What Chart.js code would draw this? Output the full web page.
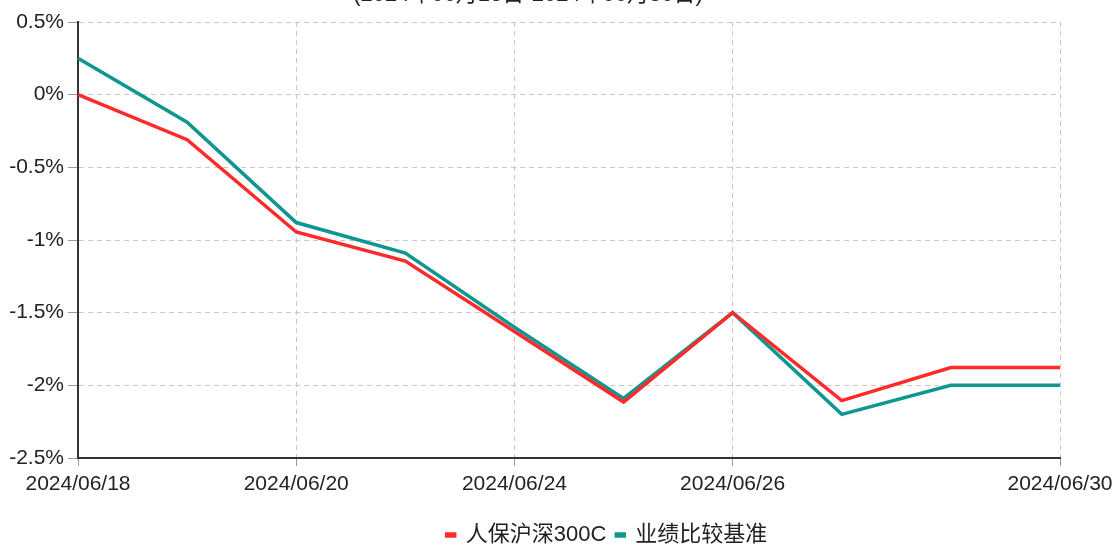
<!DOCTYPE html>
<html>
<head>
<meta charset="utf-8">
<script src="https://cdn.jsdelivr.net/npm/chart.js@4/dist/chart.umd.min.js"></script>
<style>
  html, body { margin: 0; padding: 0; background: #fff; overflow: hidden; }
  .wrap { position: relative; width: 1114px; height: 547px; }
  .title {
    position: absolute; top: -25px; left: 0; width: 1056px;
    text-align: center; line-height: 22px;
    font: 22px "Liberation Sans", "Noto Sans CJK SC", sans-serif; color: #222;
  }
</style>
</head>
<body>
<div class="wrap">
  <canvas id="chart" width="1114" height="547"></canvas>
  <div class="title">(2024年06月18日-2024年06月30日)</div>
</div>
<script>
const dates = ['2024/06/18', '2024/06/19', '2024/06/20', '2024/06/21', '2024/06/24',
  '2024/06/25', '2024/06/26', '2024/06/27', '2024/06/28', '2024/06/30'];
const shownDates = ['2024/06/18', '2024/06/20', '2024/06/24', '2024/06/26', '2024/06/30'];
const fundName = '人保沪深300C';
const benchName = '业绩比较基准';
const fundValues = [0, -0.31, -0.945, -1.145, -1.63, -2.115, -1.50, -2.105, -1.877, -1.877];
const benchValues = [0.25, -0.19, -0.88, -1.09, -1.60, -2.09, -1.50, -2.20, -2.00, -2.00];

const font = '"Liberation Sans", "Noto Sans CJK SC", sans-serif';
const gridGray = '#c8c8c8';
const isShown = (i) => shownDates.includes(dates[i]);

// nudge the legend to where the original puts it
const legendShift = {
  id: 'legendShift',
  afterLayout(chart) {
    const lg = chart.legend;
    lg.left += 50; lg.right += 50;
    lg.top += 9; lg.bottom += 9;
  }
};

new Chart(document.getElementById('chart'), {
  type: 'line',
  data: {
    labels: dates,
    datasets: [
      {
        label: fundName,
        data: fundValues,
        borderColor: '#ff2a2a',
        backgroundColor: '#ff2a2a',
        borderWidth: 3.5,
        pointRadius: 0,
        tension: 0,
      },
      {
        label: benchName,
        data: benchValues,
        borderColor: '#0e9690',
        backgroundColor: '#0e9690',
        borderWidth: 3.5,
        pointRadius: 0,
        tension: 0,
      },
    ],
  },
  options: {
    responsive: false,
    devicePixelRatio: 1,
    animation: false,
    layout: { padding: { top: 22 } },
    plugins: {
      title: { display: false },
      tooltip: { enabled: false },
      legend: {
        position: 'bottom',
        labels: {
          boxWidth: 8,
          boxHeight: 2,
          padding: 10,
          color: '#222',
          font: { family: font, size: 22 },
        },
      },
    },
    scales: {
      x: {
        offset: false,
        afterFit(scale) {
          scale.height = 47;
          scale.paddingRight = 54;
        },
        grid: {
          color: (ctx) => (isShown(ctx.index) ? gridGray : 'rgba(0,0,0,0)'),
          tickColor: (ctx) => (isShown(ctx.index) ? '#999' : 'rgba(0,0,0,0)'),
          tickLength: 8,
        },
        border: { color: '#333', width: 2, dash: [5, 4] },
        ticks: {
          autoSkip: false,
          maxRotation: 0,
          padding: 6,
          color: '#222',
          font: { family: font, size: 21 },
          callback(value, index) {
            return isShown(index) ? dates[index] : '';
          },
        },
      },
      y: {
        min: -2.5,
        max: 0.5,
        afterFit(scale) { scale.width = 78; },
        grid: { color: gridGray, tickColor: '#999', tickLength: 10 },
        border: { color: '#333', width: 2, dash: [5, 4] },
        ticks: {
          stepSize: 0.5,
          padding: 4,
          color: '#222',
          font: { family: font, size: 21 },
          callback: (v) => Math.round(v * 10) / 10 + '%',
        },
      },
    },
  },
  plugins: [legendShift],
});
</script>
</body>
</html>
